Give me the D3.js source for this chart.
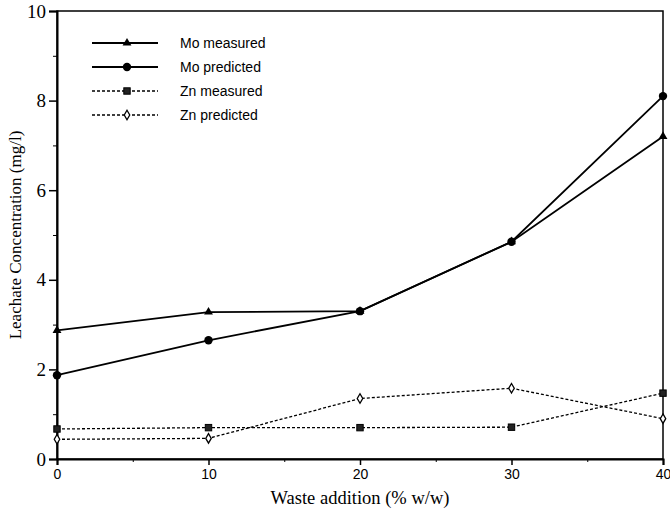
<!doctype html>
<html>
<head>
  <script src="https://cdnjs.cloudflare.com/ajax/libs/d3/7.8.5/d3.min.js"></script>
  <style>
    body { margin: 0; background: #fff; }
    svg { display: block; }
  </style>
</head>
<body>
<svg width="670" height="512"></svg>
<script>
  // data
  var wasteAddition = [0, 10, 20, 30, 40];
  var moMeasured = [2.87, 3.28, 3.3, 4.85, 7.2];
  var moPredicted = [1.87, 2.65, 3.3, 4.85, 8.1];
  var znMeasured = [0.67, 0.7, 0.7, 0.71, 1.47];
  var znPredicted = [0.44, 0.46, 1.35, 1.58, 0.9];
  var yTicks = [0, 2, 4, 6, 8, 10];
  var xTicks = [0, 10, 20, 30, 40];

  var series = [
    { name: "Mo measured", values: moMeasured, marker: "triangle", dash: null },
    { name: "Mo predicted", values: moPredicted, marker: "circle", dash: null },
    { name: "Zn measured", values: znMeasured, marker: "square", dash: "3,2" },
    { name: "Zn predicted", values: znPredicted, marker: "diamond", dash: "3,2" }
  ];

  var svg = d3.select("svg");
  var plotL = 57, plotR = 663, plotT = 11, plotB = 459;

  var x = d3.scaleLinear().domain([0, 40]).range([plotL, plotR]);
  var y = d3.scaleLinear().domain([0, 10]).range([plotB, plotT]);

  // frame
  svg.append("rect")
    .attr("x", plotL).attr("y", plotT)
    .attr("width", plotR - plotL).attr("height", plotB - plotT)
    .attr("fill", "none").attr("stroke", "#000").attr("stroke-width", 1.5);

  // y axis
  var yAxis = svg.append("g").attr("transform", "translate(" + plotL + ",0)")
    .call(d3.axisLeft(y).tickValues(yTicks).tickSize(8).tickPadding(3).tickFormat(d3.format("d")));
  yAxis.select(".domain").attr("stroke-width", 2);
  yAxis.selectAll(".tick line").attr("stroke-width", 1.5);
  yAxis.selectAll("text")
    .attr("font-family", "Liberation Serif").attr("font-size", 19).attr("fill", "#000");
  svg.append("g").attr("transform", "translate(" + plotL + ",0)")
    .call(d3.axisLeft(y).tickValues([1, 3, 5, 7, 9]).tickSize(4).tickFormat(""))
    .select(".domain").remove();

  // x axis
  var xAxis = svg.append("g").attr("transform", "translate(0," + plotB + ")")
    .call(d3.axisBottom(x).tickValues(xTicks).tickSize(6).tickPadding(4).tickFormat(d3.format("d")));
  xAxis.select(".domain").attr("stroke-width", 2);
  xAxis.selectAll(".tick line").attr("stroke-width", 1.5);
  xAxis.selectAll("text")
    .attr("font-family", "Liberation Sans").attr("font-size", 14).attr("fill", "#000");
  svg.append("g").attr("transform", "translate(0," + plotB + ")")
    .call(d3.axisBottom(x).tickValues([5, 15, 25, 35]).tickSize(3).tickFormat(""))
    .select(".domain").remove();

  // titles
  svg.append("text")
    .attr("x", (plotL + plotR) / 2).attr("y", 504)
    .attr("text-anchor", "middle")
    .attr("font-family", "Liberation Serif").attr("font-size", 18.5)
    .text("Waste addition (% w/w)");
  svg.append("text")
    .attr("transform", "translate(21," + (plotT + plotB) / 2 + ") rotate(-90)")
    .attr("text-anchor", "middle")
    .attr("font-family", "Liberation Serif").attr("font-size", 17)
    .text("Leachate Concentration (mg/l)");

  function drawMarker(g, type, cx, cy) {
    if (type === "triangle") {
      g.append("path").attr("d", d3.symbol(d3.symbolTriangle, 34)())
        .attr("transform", "translate(" + cx + "," + cy + ")").attr("fill", "#000");
    } else if (type === "circle") {
      g.append("circle").attr("cx", cx).attr("cy", cy).attr("r", 4.2).attr("fill", "#000");
    } else if (type === "square") {
      g.append("rect").attr("x", cx - 3.2).attr("y", cy - 3.2).attr("width", 6.4).attr("height", 6.4)
        .attr("fill", "#222").attr("stroke", "#000").attr("stroke-width", 1);
    } else {
      g.append("path").attr("d", d3.symbol(d3.symbolDiamond, 26)())
        .attr("transform", "translate(" + cx + "," + cy + ")")
        .attr("fill", "#fff").attr("stroke", "#000").attr("stroke-width", 1.3);
    }
  }

  var line = d3.line().x(function (d, i) { return x(wasteAddition[i]); }).y(function (d) { return y(d); });

  series.forEach(function (s) {
    svg.append("path").datum(s.values)
      .attr("d", line)
      .attr("fill", "none").attr("stroke", "#000")
      .attr("stroke-width", s.dash ? 1.3 : 1.8)
      .attr("stroke-dasharray", s.dash);
    var g = svg.append("g");
    s.values.forEach(function (v, i) { drawMarker(g, s.marker, x(wasteAddition[i]), y(v)); });
  });

  // legend
  series.forEach(function (s, i) {
    var ly = 43 + i * 24;
    svg.append("line").attr("x1", 92).attr("x2", 158).attr("y1", ly).attr("y2", ly)
      .attr("stroke", "#000").attr("stroke-width", s.dash ? 1.3 : 1.8)
      .attr("stroke-dasharray", s.dash);
    drawMarker(svg.append("g"), s.marker, 127, ly);
    svg.append("text").attr("x", 180).attr("y", ly + 5)
      .attr("font-family", "Liberation Sans").attr("font-size", 14)
      .text(s.name);
  });
</script>
</body>
</html>
